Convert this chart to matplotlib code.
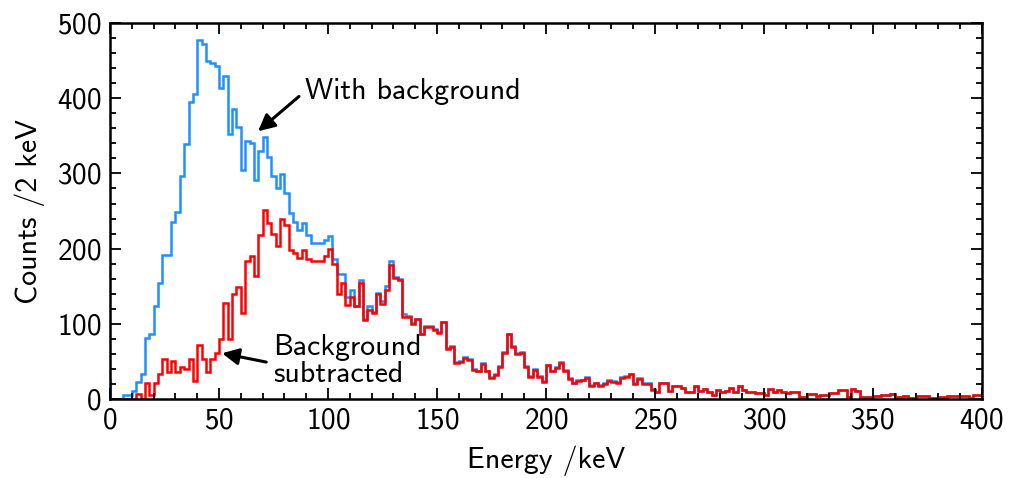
import numpy as np
import matplotlib
matplotlib.use("Agg")
import matplotlib.pyplot as plt

plt.rcParams['font.family'] = ['cmss10', 'DejaVu Sans']
plt.rcParams['mathtext.fontset'] = 'cm'
plt.rcParams['axes.unicode_minus'] = False
plt.rcParams['axes.formatter.use_mathtext'] = True

bin_width = 2  # keV

# Counts per 2 keV, bins starting at -2 keV (first bin hidden left of axis)
with_background = [25,
    0, 0, 0, 5, 5, 11, 23, 33, 81, 86,
    124, 154, 191, 191, 236, 249, 296, 339, 395, 405,
    477, 472, 449, 447, 443, 413, 429, 353, 385, 362,
    305, 343, 340, 291, 330, 349, 322, 296, 281, 299,
    274, 247, 236, 225, 234, 218, 208, 208, 208, 212,
    217, 186, 166, 166, 136, 145, 124, 159, 107, 124,
    116, 141, 130, 150, 183, 162, 160, 113, 111, 101,
    107, 87, 97, 97, 93, 89, 103, 68, 70, 49,
    51, 56, 53, 40, 38, 48, 38, 29, 33, 44,
    62, 87, 70, 61, 62, 44, 31, 40, 31, 24,
    46, 38, 43, 49, 39, 28, 22, 25, 26, 29,
    19, 22, 19, 21, 25, 24, 23, 29, 31, 34,
    21, 28, 21, 21, 13, 10, 22, 22, 11, 18,
    17, 15, 9, 9, 17, 11, 13, 10, 6, 12,
    9, 11, 15, 9, 17, 12, 9, 10, 8, 8,
    6, 13, 9, 12, 10, 8, 9, 9, 3, 3,
    7, 7, 4, 5, 5, 8, 8, 12, 12, 3,
    14, 11, 3, 3, 3, 4, 4, 5, 6, 7,
    3, 3, 4, 2, 2, 4, 4, 4, 2, 2,
    3, 3, 4, 4, 4, 4, 4, 2, 5, 5]

# Background subtracted, bins starting at 0 keV
subtracted = [
    0, 0, 0, 0, 0, 0, 7, 0, 21, 5,
    22, 33, 53, 36, 51, 36, 43, 40, 54, 24,
    72, 54, 36, 54, 61, 80, 128, 80, 140, 149,
    114, 184, 190, 164, 218, 252, 234, 220, 203, 240,
    231, 198, 194, 187, 198, 186, 183, 183, 183, 190,
    200, 180, 140, 154, 125, 136, 124, 154, 105, 118,
    114, 140, 126, 145, 178, 161, 158, 109, 109, 100,
    106, 86, 96, 96, 92, 88, 102, 67, 69, 48,
    50, 55, 52, 39, 37, 47, 37, 28, 32, 43,
    61, 86, 69, 60, 61, 43, 30, 39, 30, 23,
    45, 37, 42, 48, 38, 27, 21, 24, 25, 28,
    18, 21, 18, 20, 24, 23, 22, 28, 30, 33,
    20, 27, 20, 20, 12, 9, 22, 22, 11, 18,
    17, 15, 9, 9, 17, 11, 13, 10, 6, 12,
    9, 11, 15, 9, 17, 12, 9, 10, 8, 8,
    6, 13, 9, 12, 10, 8, 9, 9, 3, 3,
    7, 7, 4, 5, 5, 8, 8, 12, 12, 3,
    14, 11, 3, 3, 3, 4, 4, 5, 6, 7,
    3, 3, 4, 2, 2, 4, 4, 4, 2, 2,
    3, 3, 4, 4, 4, 4, 4, 2, 5, 5]

x_ticks = [0, 50, 100, 150, 200, 250, 300, 350, 400]
y_ticks = [0, 100, 200, 300, 400, 500]

edges_bg = -bin_width + bin_width * np.arange(len(with_background) + 1)
edges_sub = bin_width * np.arange(len(subtracted) + 1)

fig = plt.figure(figsize=(10.1, 4.78), dpi=100)
ax = fig.add_axes([0.109, 0.165, 0.863, 0.787])

ax.stairs(with_background, edges_bg, color='#1E90FF', lw=1.8, baseline=None)
ax.stairs(subtracted, edges_sub, color='#FF0000', lw=1.8, baseline=None)

ax.set_xlim(0, 400)
ax.set_ylim(0, 500)
ax.set_xticks(x_ticks)
ax.set_yticks(y_ticks)
ax.set_xticks(np.arange(0, 401, 10), minor=True)
ax.set_yticks(np.arange(0, 501, 20), minor=True)
ax.tick_params(which='both', direction='in', top=True, right=True, labelsize=21, width=1.3)
ax.tick_params(which='major', length=8, pad=6)
ax.tick_params(which='minor', length=4)
for s in ax.spines.values():
    s.set_linewidth(1.8)

ax.set_xlabel('Energy /keV', fontsize=21.5, labelpad=8)
ax.set_ylabel('Counts /2 keV', fontsize=21.5, labelpad=9)

ax.annotate('With background', xy=(67.9, 356), xytext=(89.4, 409),
            fontsize=21.5, ha='left', va='center',
            arrowprops=dict(arrowstyle='-|>', color='black', lw=2.2,
                            mutation_scale=25, relpos=(0, 0.5),
                            shrinkA=3, shrinkB=0))
ax.annotate('Background\nsubtracted', xy=(51.4, 61), xytext=(74.8, 51),
            fontsize=21.5, ha='left', va='center', multialignment='left',
            linespacing=1.0,
            arrowprops=dict(arrowstyle='-|>', color='black', lw=2.2,
                            mutation_scale=25, relpos=(0, 0.45),
                            shrinkA=3, shrinkB=0))

fig.savefig('out.png', dpi=100)
